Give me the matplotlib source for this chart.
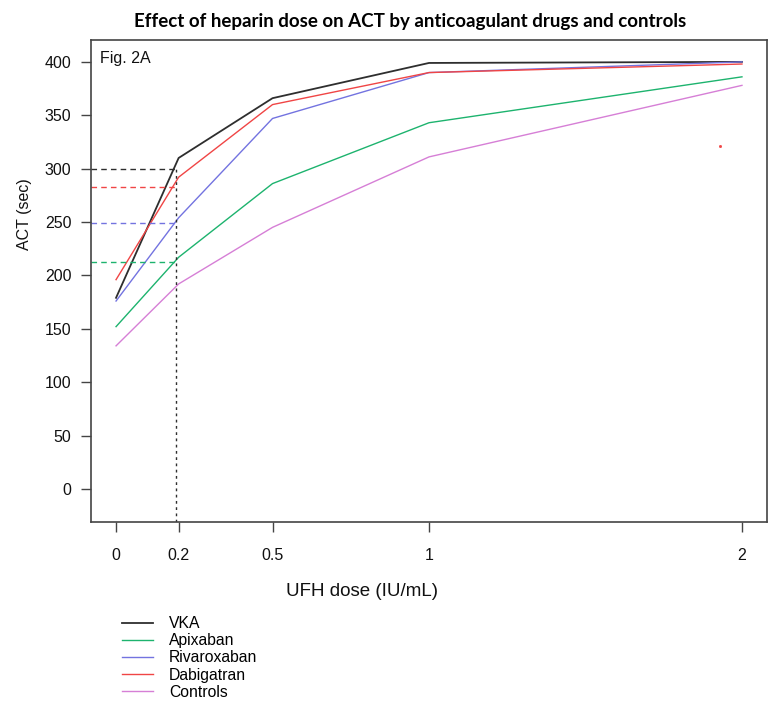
import numpy as np
import matplotlib.pyplot as plt

plt.rcParams['font.family'] = ['Liberation Sans', 'DejaVu Sans']

# UFH doses (IU/mL) and mean ACT (sec) per group
dose = [0, 0.2, 0.5, 1, 2]
vka = [179, 310, 366, 399, 400]
apixaban = [152, 217, 286, 343, 386]
rivaroxaban = [176, 254, 347, 390, 400]
dabigatran = [196, 292, 360, 390, 398]
controls = [134, 192, 245, 311, 378]

# ACT reached at 0.2 IU/mL (dashed reference lines)
ref_dose = 0.19
ref_act = {'VKA': 300, 'Dabigatran': 283, 'Rivaroxaban': 249, 'Apixaban': 213}

xticks = [0, 0.2, 0.5, 1, 2]
yticks = [0, 50, 100, 150, 200, 250, 300, 350, 400]

colors = {'VKA': '#2e2e2e', 'Apixaban': '#1db36e', 'Rivaroxaban': '#7373e0',
          'Dabigatran': '#f04545', 'Controls': '#d67fd6'}

fig = plt.figure(figsize=(7.77, 7.09), dpi=100)
ax = fig.add_axes([90.7 / 777, 1 - 522 / 709, (767 - 90.7) / 777, (522 - 40) / 709])

series = [('VKA', vka), ('Apixaban', apixaban), ('Rivaroxaban', rivaroxaban),
          ('Dabigatran', dabigatran), ('Controls', controls)]
for name, vals in series:
    ax.plot(dose, vals, color=colors[name], lw=1.3 if name == 'VKA' else 1.0, label=name)

# dashed guides at 0.2 IU/mL
xmin = -0.081
for name, v in ref_act.items():
    ax.plot([xmin, ref_dose], [v, v], color=colors[name], lw=1.0, ls=(0, (4, 3)))
ax.plot([ref_dose, ref_dose], [-31, ref_act['VKA']], color='#2e2e2e', lw=1.0, ls=(0, (2, 2.5)))

# stray red dot seen in the figure
ax.plot([1.93], [321], marker='s', ms=1.0, color='#f04545', lw=0)

ax.set_xlim(xmin, 2.08)
ax.set_ylim(-31, 420.5)
ax.set_xticks(xticks)
ax.set_xticklabels(['0', '0.2', '0.5', '1', '2'])
ax.set_yticks(yticks)
ax.tick_params(axis='both', labelsize=11.5, length=7, width=1, color='#444444', labelcolor='#111111')
ax.tick_params(axis='x', pad=12)
ax.tick_params(axis='y', pad=7)
for s in ax.spines.values():
    s.set_color('#444444')
    s.set_linewidth(1.2)

ax.text(100 / 777, 1 - 58 / 709, 'Fig. 2A', transform=fig.transFigure, fontsize=11.5,
        va='center', ha='left', color='#111111')

fig.text(410 / 777, 1 - 22 / 709, 'Effect of heparin dose on ACT by anticoagulant drugs and controls',
         ha='center', va='center', fontsize=13.5, fontweight='bold', family=['Lato', 'DejaVu Sans'])
fig.text(362 / 777, 1 - 592 / 709, 'UFH dose (IU/mL)', ha='center', va='center', fontsize=13.5,
         color='#111111')
fig.text(25 / 777, 1 - 214 / 709, 'ACT (sec)', ha='center', va='center', rotation=90,
         fontsize=11.5, color='#111111')

ax.legend(loc='upper left', bbox_to_anchor=(122 / 777, 1 - 616 / 709), bbox_transform=fig.transFigure,
          frameon=False, fontsize=11.3, handlelength=2.0, handletextpad=1.0, labelspacing=0.14,
          borderaxespad=0, borderpad=0)

fig.savefig('out.png', dpi=100)
